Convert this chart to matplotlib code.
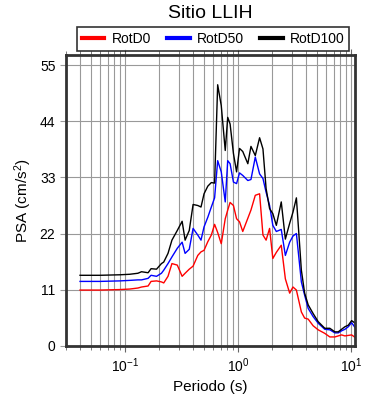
import matplotlib
matplotlib.use("Agg")
import matplotlib.pyplot as plt
import numpy as np

plt.rcParams['font.family'] = ['Liberation Sans', 'DejaVu Sans']
plt.rcParams['mathtext.default'] = 'regular'

# periods (s)
periodo = [0.04, 0.06, 0.09, 0.11, 0.13, 0.14, 0.16, 0.17, 0.19, 0.21,
           0.22, 0.24, 0.26, 0.29, 0.32, 0.34, 0.37, 0.40, 0.44, 0.47,
           0.50, 0.54, 0.58, 0.62, 0.66, 0.71, 0.77, 0.81, 0.85, 0.91,
           0.97, 1.03, 1.10, 1.22, 1.30, 1.42, 1.55, 1.66, 1.77, 1.90,
           2.03, 2.18, 2.41, 2.62, 2.86, 3.06, 3.28, 3.63, 3.88, 4.17,
           4.61, 5.11, 5.85, 6.48, 7.18, 7.69, 8.23, 8.81, 9.44, 10.1, 11.2]

rotd0 = [10.9, 10.9, 11.0, 11.1, 11.3, 11.5, 11.7, 12.6, 12.7, 12.5,
         12.3, 13.6, 16.1, 15.8, 13.6, 14.2, 15.0, 15.6, 17.7, 18.4,
         18.7, 20.4, 21.7, 23.8, 22.2, 20.0, 24.9, 26.6, 28.1, 27.5,
         24.9, 24.3, 22.4, 25.0, 26.6, 29.5, 29.8, 21.7, 20.7, 23.0,
         17.1, 18.3, 19.7, 13.1, 10.3, 11.5, 10.9, 6.6, 5.4, 5.2,
         3.9, 3.1, 2.4, 1.7, 1.7, 1.9, 2.1, 1.9, 2.0, 2.1, 1.4]

rotd50 = [12.6, 12.6, 12.7, 12.8, 12.9, 12.9, 13.2, 13.8, 13.6, 14.2,
          14.8, 16.1, 17.4, 19.1, 20.3, 18.1, 18.9, 23.0, 21.7, 20.7,
          23.3, 25.2, 27.2, 29.0, 36.3, 34.1, 28.2, 36.3, 35.7, 32.1,
          31.8, 33.9, 33.4, 32.4, 32.6, 37.0, 33.7, 32.8, 30.1, 27.5,
          23.6, 22.4, 22.8, 17.7, 20.3, 21.5, 22.0, 12.5, 9.9, 7.3,
          5.7, 4.4, 3.2, 3.1, 2.5, 2.5, 2.9, 3.2, 3.7, 4.5, 3.1]

rotd100 = [13.8, 13.8, 13.9, 14.0, 14.2, 14.5, 14.3, 15.1, 15.0, 16.1,
           16.4, 18.1, 20.7, 22.6, 24.4, 20.7, 22.6, 27.7, 27.5, 27.2,
           29.8, 31.3, 32.0, 31.9, 51.2, 47.1, 38.3, 44.8, 43.5, 37.7,
           34.1, 38.7, 38.1, 35.7, 39.1, 37.3, 40.8, 38.6, 30.8, 26.9,
           25.9, 23.6, 28.2, 20.9, 24.0, 26.2, 29.0, 14.8, 10.3, 8.0,
           6.3, 4.7, 3.4, 3.4, 2.7, 2.7, 3.2, 3.7, 4.0, 4.9, 4.2]

yticks = [0, 11, 22, 33, 44, 55]

fig = plt.figure(figsize=(3.9, 4.0), dpi=100)
ax = fig.add_axes([0.169, 0.136, 0.741, 0.726])

ax.plot(periodo, rotd0, color='red', lw=1.0, label='RotD0')
ax.plot(periodo, rotd50, color='blue', lw=1.0, label='RotD50')
ax.plot(periodo, rotd100, color='black', lw=1.0, label='RotD100')

ax.set_xscale('log')
ax.set_xlim(0.03, 10.8)
ax.set_ylim(0, 57)
ax.set_yticks(yticks)

ax.grid(True, which='both', axis='x', color='#999999', lw=0.8)
ax.grid(True, which='major', axis='y', color='#999999', lw=0.8)
ax.set_axisbelow(True)

for s in ax.spines.values():
    s.set_linewidth(2)
    s.set_color('#333333')

ax.tick_params(axis='x', which='both', direction='out', top=True, labelsize=10,
               color='#666666')
ax.tick_params(axis='x', which='major', length=4)
ax.tick_params(axis='x', which='minor', length=3)
ax.tick_params(axis='y', direction='out', length=4, color='#999999', labelsize=10)

ax.set_xlabel('Periodo (s)', fontsize=11)
ax.set_ylabel('PSA (cm/s$^2$)', fontsize=11)
fig.text(0.54, 0.965, 'Sitio LLIH', ha='center', va='center', fontsize=14)

leg = ax.legend(loc='lower center', bbox_to_anchor=(0.51, 1.005), ncol=3,
                frameon=True, fancybox=False, fontsize=10, handlelength=1.6,
                columnspacing=1.2, borderaxespad=0.2, handletextpad=0.5,
                borderpad=0.35)
leg.get_frame().set_edgecolor('black')
leg.get_frame().set_linewidth(1.2)
for line in leg.get_lines():
    line.set_linewidth(3)

fig.savefig('out.png', dpi=100)
